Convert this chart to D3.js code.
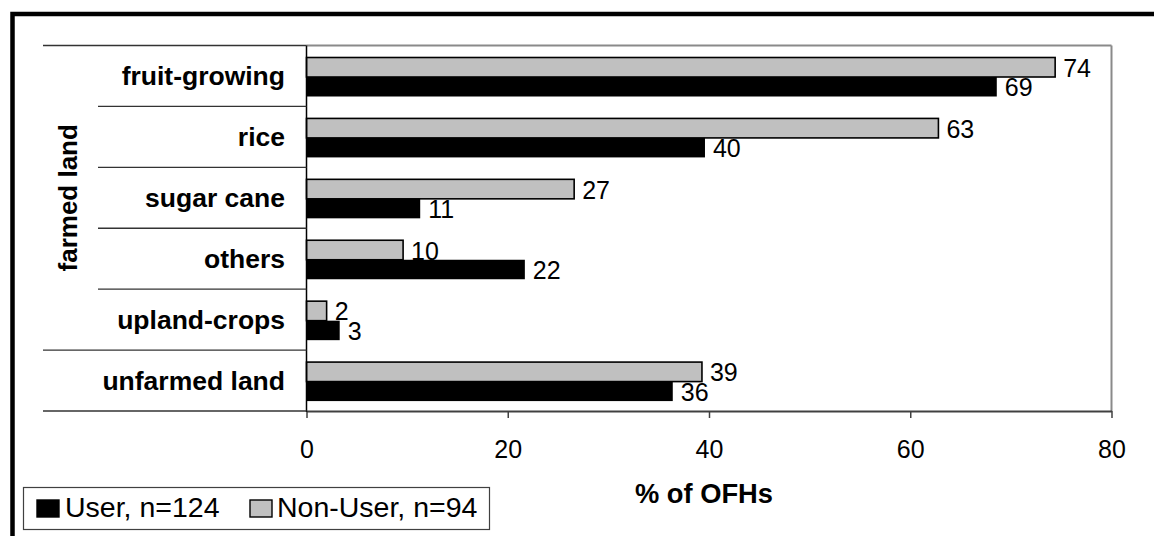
<!DOCTYPE html>
<html>
<head>
<meta charset="utf-8">
<script src="https://cdn.jsdelivr.net/npm/d3@7/dist/d3.min.js"></script>
<style>
  html, body { margin: 0; padding: 0; background: #fff; }
  svg { display: block; font-family: "Liberation Sans", Arial, sans-serif; }
</style>
</head>
<body>
<svg id="chart" width="1154" height="536"></svg>
<script>
// ---- data ----
const categories = ["fruit-growing", "rice", "sugar cane", "others", "upland-crops", "unfarmed land"];
const categoryGroups = ["farmed land", "farmed land", "farmed land", "farmed land", "farmed land", ""];
const userValues = [68.6, 39.6, 11.3, 21.7, 3.3, 36.4];
const nonUserValues = [74.4, 62.8, 26.6, 9.6, 2.0, 39.3];
const seriesNames = ["Non-User", "User"];
const legendLabels = ["User, n=124", "Non-User, n=94"];
const xTicks = [0, 20, 40, 60, 80];
const xTitle = "% of OFHs";

// ---- setup ----
const svg = d3.select("#chart");
const W = 1154, H = 536;
const plot = { left: 306.5, right: 1111.5, top: 45.5, bottom: 411 };
const colors = { "User": "#000000", "Non-User": "#c0c0c0" };

const x = d3.scaleLinear().domain([0, 80]).range([plot.left, plot.right]);
const y = d3.scaleBand().domain(categories).range([plot.top, plot.bottom]).padding(0);
const inner = d3.scaleBand().domain(seriesNames).range([12, 51]).padding(0);
const fmt = d3.format(".0f");

// outer frame (clipped on right/bottom)
svg.append("rect").attr("x", 12.5).attr("y", 14).attr("width", 1400).attr("height", 800)
  .attr("fill", "none").attr("stroke", "#000").attr("stroke-width", 4.5);

// plot area border (top & right gray)
svg.append("line").attr("x1", plot.left).attr("x2", plot.right).attr("y1", plot.top).attr("y2", plot.top)
  .attr("stroke", "#8a8a8a").attr("stroke-width", 2);
svg.append("line").attr("x1", plot.right).attr("x2", plot.right).attr("y1", plot.top).attr("y2", plot.bottom)
  .attr("stroke", "#8a8a8a").attr("stroke-width", 2);

// rows data
const rows = categories.map((c, i) => ({
  cat: c,
  values: [{ s: "Non-User", v: nonUserValues[i] }, { s: "User", v: userValues[i] }]
}));

// data labels (drawn beneath bars)
const g = svg.append("g");
rows.forEach(r => {
  r.values.forEach(d => {
    const cy = y(r.cat) + inner(d.s) + inner.bandwidth() / 2;
    g.append("text")
      .attr("x", x(d.v) + 8)
      .attr("y", cy + 9.5)
      .attr("font-size", 25)
      .attr("fill", "#000")
      .text(fmt(d.v));
  });
});

// bars
rows.forEach(r => {
  r.values.forEach(d => {
    g.append("rect")
      .attr("x", x(0))
      .attr("y", y(r.cat) + inner(d.s))
      .attr("width", x(d.v) - x(0))
      .attr("height", inner.bandwidth())
      .attr("fill", colors[d.s])
      .attr("stroke", "#000")
      .attr("stroke-width", d.s === "Non-User" ? 1.6 : 0);
  });
});

// x axis
const xAxis = d3.axisBottom(x).tickValues(xTicks).tickSize(7).tickSizeOuter(0).tickPadding(22);
const ax = svg.append("g").attr("transform", `translate(0,${plot.bottom})`).call(xAxis);
ax.select(".domain").attr("stroke", "#404040").attr("stroke-width", 2);
ax.selectAll(".tick line").attr("stroke", "#404040").attr("stroke-width", 1.5);
ax.selectAll(".tick text").attr("font-size", 25).attr("fill", "#000")
  .attr("font-family", "\"Liberation Sans\", Arial, sans-serif");

// left axis line
svg.append("line").attr("x1", plot.left).attr("x2", plot.left).attr("y1", plot.top).attr("y2", plot.bottom + 1)
  .attr("stroke", "#000").attr("stroke-width", 1.5);

// category separators (multi-level)
for (let i = 0; i <= categories.length; i++) {
  const yy = i === categories.length ? plot.bottom : y(categories[i]);
  const outer = i === 0 || i === categories.length || categoryGroups[i - 1] !== categoryGroups[i];
  svg.append("line")
    .attr("x1", outer ? 43 : 98).attr("x2", plot.left)
    .attr("y1", yy).attr("y2", yy)
    .attr("stroke", "#333").attr("stroke-width", 1.4);
}

// category labels
categories.forEach(c => {
  svg.append("text")
    .attr("x", 285).attr("y", y(c) + y.bandwidth() / 2 + 9.5)
    .attr("text-anchor", "end").attr("font-weight", "bold").attr("font-size", 26.5)
    .text(c);
});

// group labels
const groupNames = Array.from(new Set(categoryGroups)).filter(d => d);
groupNames.forEach(gn => {
  const idx = categoryGroups.map((d, i) => d === gn ? i : -1).filter(i => i >= 0);
  const y0 = y(categories[idx[0]]);
  const y1 = y(categories[idx[idx.length - 1]]) + y.bandwidth();
  const cy = (y0 + y1) / 2;
  svg.append("text")
    .attr("transform", `translate(77,${cy}) rotate(-90)`)
    .attr("text-anchor", "middle").attr("font-weight", "bold").attr("font-size", 26)
    .text(gn);
});

// x title
svg.append("text").attr("x", 704).attr("y", 503).attr("text-anchor", "middle")
  .attr("font-weight", "bold").attr("font-size", 27.3).text(xTitle);

// legend
const lg = svg.append("g");
lg.append("rect").attr("x", 23.5).attr("y", 487.5).attr("width", 466).attr("height", 42)
  .attr("fill", "#fff").attr("stroke", "#404040").attr("stroke-width", 1.2);
const legendItems = [
  { label: legendLabels[0], color: colors["User"], sx: 37, tx: 65 },
  { label: legendLabels[1], color: colors["Non-User"], sx: 250, tx: 277 }
];
legendItems.forEach(it => {
  lg.append("rect").attr("x", it.sx).attr("y", 500).attr("width", 22).attr("height", 17)
    .attr("fill", it.color).attr("stroke", "#000").attr("stroke-width", 1.4);
  lg.append("text").attr("x", it.tx).attr("y", 517).attr("font-size", 28.5).text(it.label);
});
</script>
</body>
</html>
